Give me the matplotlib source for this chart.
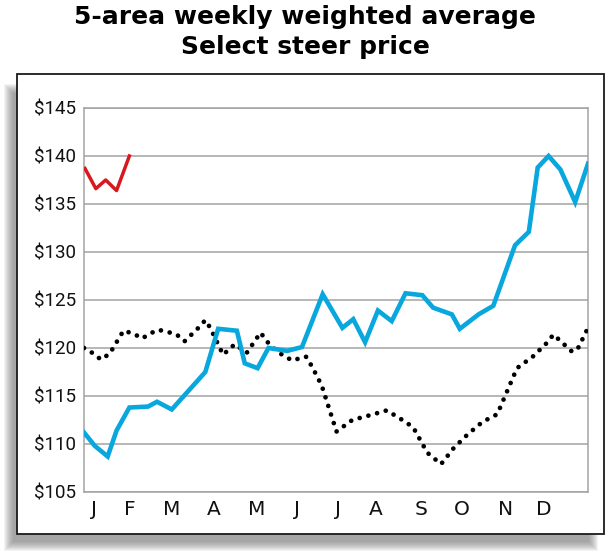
#!/usr/bin/env python3
"""5-area weekly weighted average Select steer price"""

import matplotlib
matplotlib.use("Agg")
import matplotlib.pyplot as plt
from matplotlib.patches import Rectangle

# week positions (0 = first week of January) and prices
cur_weeks = [0.1, 1.2, 2.2, 3.3, 4.6]
cur_price = [138.7, 136.6, 137.5, 136.4, 140.0]

last_weeks = [0.0, 1.1, 2.4, 3.3, 4.6, 6.5, 7.4, 8.9, 12.3, 13.6, 15.5, 16.3,
              17.6, 18.7, 20.6, 22.1, 24.2, 26.2, 27.3, 28.5, 29.8, 31.2,
              32.6, 34.3, 35.4, 37.3, 38.1, 40.0, 41.5, 43.7, 45.1, 46.0,
              47.1, 48.3, 49.8, 51.1]
last_price = [111.2, 109.8, 108.7, 111.4, 113.8, 113.9, 114.4, 113.6, 117.5,
              122.0, 121.8, 118.4, 117.9, 120.0, 119.7, 120.1, 125.6, 122.1,
              123.0, 120.6, 123.9, 122.8, 125.7, 125.5, 124.2, 123.5, 122.0,
              123.5, 124.4, 130.7, 132.1, 138.8, 140.0, 138.6, 135.2, 139.2]

avg_weeks = [0.0, 1.0, 1.7, 2.6, 4.0, 5.0, 5.9, 6.7, 7.5, 8.4, 9.4, 10.2,
             11.6, 12.3, 12.8, 14.1, 15.3, 16.5, 17.9, 18.7, 19.6, 21.1,
             22.5, 23.1, 24.1, 25.6, 27.2, 29.0, 30.7, 32.6, 33.4, 34.8,
             36.2, 37.5, 38.9, 40.4, 41.9, 43.9, 45.5, 46.9, 47.6, 49.5,
             50.1, 51.1]
avg_price = [120.0, 119.4, 118.8, 119.4, 121.8, 121.5, 121.0, 121.5, 121.9,
             121.7, 121.4, 120.7, 122.1, 122.9, 122.1, 119.3, 120.4, 119.5,
             121.6, 120.5, 119.6, 118.7, 119.1, 118.1, 116.1, 111.3, 112.5,
             113.0, 113.5, 112.3, 111.7, 109.1, 107.9, 109.6, 111.0, 112.3,
             113.1, 117.9, 119.1, 120.5, 121.4, 119.6, 120.0, 122.1]

month_labels = ["J", "F", "M", "A", "M", "J", "J", "A", "S", "O", "N", "D"]
month_pos = [1.0, 4.6, 8.9, 13.2, 17.5, 21.6, 25.8, 29.6, 34.2, 38.3, 42.7, 46.6]
price_ticks = [105, 110, 115, 120, 125, 130, 135, 140, 145]

W, H = 610, 559
fig = plt.figure(figsize=(W / 100, H / 100), dpi=100)


def fx(px):
    return px / W


def fy(py):
    return 1 - py / H


# soft drop shadow behind the frame
for k in range(10):
    x0, x1 = 4 + k, 598 - k
    y0, y1 = 84 + k, 551 - k
    fig.patches.append(Rectangle((fx(x0), fy(y1)), fx(x1 - x0), (y1 - y0) / H,
                                 transform=fig.transFigure, facecolor='#666666',
                                 edgecolor='none', alpha=0.08, zorder=0))
# white frame
fig.patches.append(Rectangle((fx(17), fy(534)), fx(604 - 17), (534 - 74) / H,
                             transform=fig.transFigure, facecolor='white',
                             edgecolor='#1a1a1a', linewidth=1.3, zorder=1))

ax = fig.add_axes([fx(84), fy(492), fx(588 - 84), (492 - 108) / H])
ax.set_facecolor('none')
ax.set_zorder(2)

ax.plot(avg_weeks, avg_price, color='black', linewidth=3.4,
        linestyle=(0, (0.01, 1.9)), dash_capstyle='round', zorder=3)
ax.plot(last_weeks, last_price, color='#08a7dd', linewidth=3.3,
        solid_joinstyle='miter', zorder=4)
ax.plot(cur_weeks, cur_price, color='#d7191e', linewidth=2.5, zorder=5)

ax.set_xlim(0, 51.1)
ax.set_ylim(105, 145)
ax.set_yticks(price_ticks)
ax.set_yticklabels(["$%d" % v for v in price_ticks], fontsize=13.5,
                   family=['Roboto', 'DejaVu Sans'])
ax.set_xticks(month_pos)
ax.set_xticklabels(month_labels, fontsize=14.5,
                   family=['Liberation Sans Narrow', 'DejaVu Sans'])
ax.tick_params(length=0, pad=6, colors='#111111')
ax.grid(axis='y', color='#a3a3a3', linewidth=1.1)
ax.set_axisbelow(True)
for s in ax.spines.values():
    s.set_color('#a3a3a3')
    s.set_linewidth(1.1)

fig.text(0.5, fy(17), "5-area weekly weighted average", ha='center',
         va='center', fontsize=18, fontweight='bold',
         family=['DejaVu Sans'])
fig.text(0.5, fy(47), "Select steer price", ha='center', va='center',
         fontsize=18, fontweight='bold', family=['DejaVu Sans'])

fig.savefig("out.png", dpi=100)
